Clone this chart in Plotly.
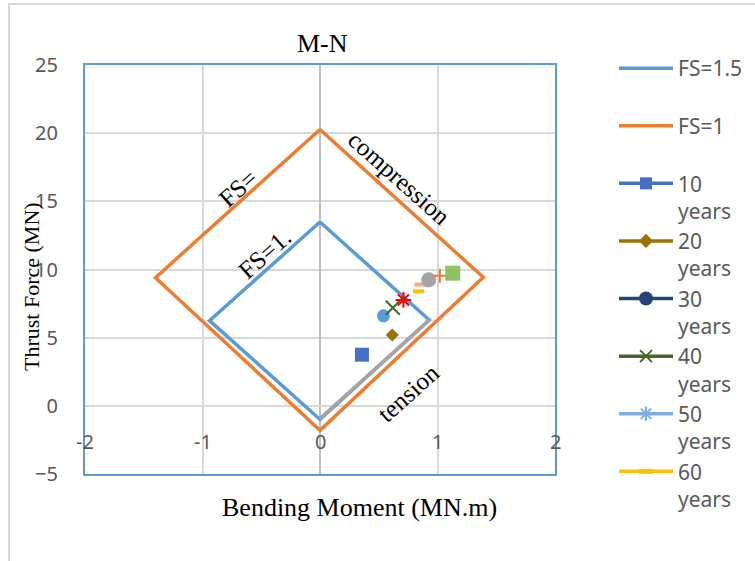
import plotly.graph_objects as go

# Interaction-diagram envelopes (bending moment vs thrust force)
fs15_m = [0.0, 0.93, 0.0, -0.94, 0.0]
fs15_n = [13.48, 6.3, -1.0, 6.25, 13.48]
fs1_m = [0.0, 1.39, 0.0, -1.40, 0.0]
fs1_n = [20.27, 9.43, -1.8, 9.4, 20.27]
tension_m = [0.0, 0.93]
tension_n = [-0.93, 6.3]

# Lining forces at successive ages
pt_m = [0.357, 0.615, 0.54, 0.62, 0.71, 0.84, 0.85, 0.925, 1.02, 1.13]
pt_n = [3.75, 5.2, 6.6, 7.2, 7.77, 8.4, 8.9, 9.24, 9.55, 9.73]
pt_symbol = ["square", "diamond", "circle", "x-thin", "asterisk-open",
             "line-ew", "line-ew", "circle", "cross-thin", "square"]
pt_color = ["#4472C4", "#997300", "#5B9BD5", "#43682B", "#FF0000",
            "#FFC000", "#F4B183", "#A5A5A5", "#ED7D31", "#8CC168"]
pt_size = [14, 10, 13, 14, 13, 8, 8, 15, 10, 15]

# Legend entries for the ages
age_names = ["10<br>years", "20<br>years", "30<br>years",
             "40<br>years", "50<br>years", "60<br>years"]
age_symbol = ["square", "diamond", "circle", "x-thin", "asterisk-open", "line-ew"]
age_color = ["#4472C4", "#997300", "#264478", "#43682B", "#7CAFDD", "#FFC000"]
age_size = [12, 11, 14, 12, 12, 10]

x_ticks = [-2, -1, 0, 1, 2]

fig = go.Figure()

fig.add_trace(go.Scatter(x=fs15_m, y=fs15_n, mode="lines", name="FS=1.5<br>&nbsp;",
                         line=dict(color="#5B9BD5", width=3.5)))
fig.add_trace(go.Scatter(x=fs1_m, y=fs1_n, mode="lines", name="FS=1<br>&nbsp;",
                         line=dict(color="#ED7D31", width=3.5)))
fig.add_trace(go.Scatter(x=tension_m, y=tension_n, mode="lines", showlegend=False,
                         line=dict(color="#A5A5A5", width=3.5)))

for name, sym, col, sz in zip(age_names, age_symbol, age_color, age_size):
    if sym == "line-ew":
        mlw = 6
    elif "thin" in sym or "open" in sym:
        mlw = 2
    else:
        mlw = 0
    fig.add_trace(go.Scatter(
        x=[None], y=[None], mode="lines+markers", name=name,
        line=dict(color=col, width=3.5),
        marker=dict(symbol=sym, color=col, size=sz, line=dict(color=col, width=mlw))))

for m, n, sym, col, sz in zip(pt_m, pt_n, pt_symbol, pt_color, pt_size):
    lw = 0
    if sym in ("x-thin", "cross-thin", "asterisk-open"):
        lw = 2
    elif sym == "line-ew":
        lw = 4
    fig.add_trace(go.Scatter(x=[m], y=[n], mode="markers", showlegend=False,
                             marker=dict(symbol=sym, color=col, size=sz,
                                         line=dict(color=col, width=lw))))

serif = "Liberation Serif, Times New Roman, serif"
sans = "Noto Sans, Open Sans, sans-serif"

annotations = []
for t in x_ticks:
    annotations.append(dict(x=t, y=-2.6, xref="x", yref="y", text=str(t), showarrow=False,
                            xanchor="center", yanchor="middle",
                            font=dict(family=sans, size=20, color="#595959")))
annotations += [
    dict(x=0.68, y=16.7, text="compression", textangle=41.7),
    dict(x=-0.70, y=15.96, text="FS=", textangle=-41.9),
    dict(x=-0.47, y=11.2, text="FS=1.", textangle=-41.7),
    dict(x=0.757, y=0.96, text="tension", textangle=-42),
]
for a in annotations[len(x_ticks):]:
    a.update(xref="x", yref="y", showarrow=False, xanchor="center", yanchor="middle",
             font=dict(family=serif, size=25, color="black"))

# Chart title and axis titles
annotations += [
    dict(x=(322 - 85) / 470, y=(474 - 43) / 409, xref="paper", yref="paper", text="M-N",
         showarrow=False, xanchor="center", yanchor="middle",
         font=dict(family=serif, size=26, color="black")),
    dict(x=(359 - 85) / 470, y=(474 - 507) / 409, xref="paper", yref="paper",
         text="Bending Moment (MN.m)", showarrow=False, xanchor="center", yanchor="middle",
         font=dict(family=serif, size=26, color="black")),
    dict(x=(31 - 85) / 470, y=(474 - 287) / 409, xref="paper", yref="paper",
         text="Thrust Force (MN)", showarrow=False, xanchor="center", yanchor="middle",
         textangle=-90, font=dict(family=serif, size=22, color="black")),
]

fig.update_layout(
    width=755, height=561,
    margin=dict(l=85, r=200, t=65, b=87, autoexpand=False),
    paper_bgcolor="white", plot_bgcolor="white",
    showlegend=True,
    legend=dict(x=(614 - 85) / 470, y=(474 - 48) / 409, xanchor="left", yanchor="top",
                valign="top", itemwidth=54, tracegroupgap=0, maxheight=560,
                font=dict(family=sans, size=21, color="#595959"),
                bgcolor="rgba(0,0,0,0)"),
    annotations=annotations,
    shapes=[dict(type="rect", xref="paper", yref="paper",
                 x0=(9 - 85) / 470, x1=(800 - 85) / 470,
                 y0=(474 - 600) / 409, y1=(474 - 4) / 409,
                 line=dict(color="#D9D9D9", width=2), layer="below")],
)
fig.update_xaxes(range=[-2, 2], dtick=1, showticklabels=False,
                 showgrid=True, gridcolor="#D9D9D9", gridwidth=2,
                 zeroline=True, zerolinecolor="#BFBFBF", zerolinewidth=2,
                 showline=True, mirror=True, linecolor="#5B9BD5", linewidth=2)
fig.update_yaxes(range=[-5, 25], dtick=5, tick0=0,
                 showgrid=True, gridcolor="#D9D9D9", gridwidth=2,
                 zeroline=True, zerolinecolor="#D9D9D9", zerolinewidth=2,
                 showline=True, mirror=True, linecolor="#5B9BD5", linewidth=2,
                 ticks="outside", ticklen=0, ticklabelstandoff=21,
                 tickfont=dict(family=sans, size=20, color="#595959"))

fig.write_html("out.html")
